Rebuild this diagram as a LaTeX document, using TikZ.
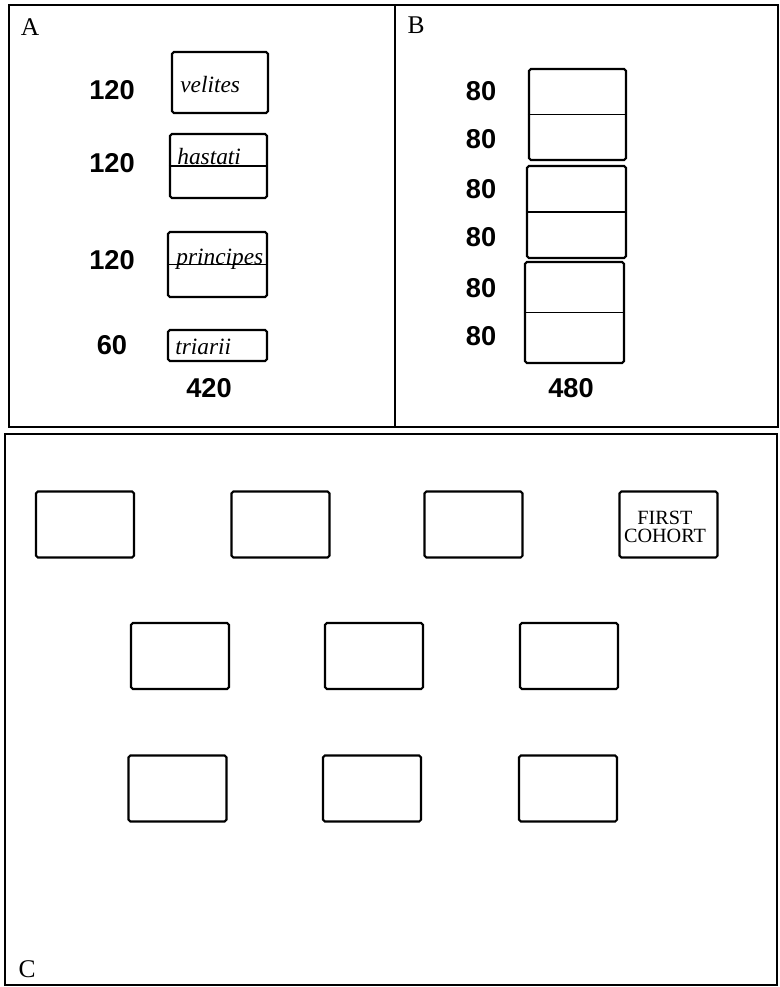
\documentclass[tikz,border=0pt]{standalone}
\usepackage{fontspec}
\setmainfont{Liberation Serif}
\newfontfamily\numfam{Liberation Sans}
\begin{document}
\begin{tikzpicture}[x=0.02cm,y=-0.02cm,
  frame/.style={line width=1.6pt},
  unit/.style={draw,line width=1.2pt,rounded corners=1pt,inner sep=0pt},
  split/.style={line width=1.1pt},
  cohort/.style={unit,minimum width=1.96cm,minimum height=1.32cm},
  num/.style={font=\numfam\bfseries\fontsize{15.5}{18}\selectfont},
  troop/.style={font=\itshape\fontsize{13.3}{15}\selectfont,anchor=base west,inner sep=0pt},
  panel/.style={font=\fontsize{14.5}{16}\selectfont,anchor=base,inner sep=0pt}]
\useasboundingbox (0,0) rectangle (779,987);
% panel frames
\draw[frame] (9,5) rectangle (395,427);
\draw[frame] (395,5) rectangle (778,427);
\draw[frame] (5,434) rectangle (777,985);
\node[panel] (labA) at (30,35) {A};
\node[panel] (labB) at (416,33) {B};
\node[panel] (labC) at (27,977) {C};
% A: manipular legion
\node[unit,minimum width=1.92cm,minimum height=1.22cm] (velites) at (220,82.5) {};
\node[unit,minimum width=1.94cm,minimum height=1.28cm] (hastati) at (218.5,166) {};
\draw[split] (hastati.west) -- (hastati.east);
\node[unit,minimum width=1.98cm,minimum height=1.3cm] (principes) at (217.5,264.5) {};
\draw[split] (principes.west) -- (principes.east);
\node[unit,minimum width=1.98cm,minimum height=0.62cm] (triarii) at (217.5,345.5) {};
\node[troop] (tvel) at (180,92) {velites};
\node[troop] (thas) at (177,164) {hastati};
\node[troop] (tpri) at (176,264) {principes};
\node[troop] (ttri) at (175,354) {triarii};
\node[num] (nvel) at (112,90) {120};
\node[num] (nhas) at (112,163) {120};
\node[num] (npri) at (112,260) {120};
\node[num] (ntri) at (112,345) {60};
\node[num] (ntotA) at (209,388) {420};
% B: cohort of three maniples
\node[unit,minimum width=1.94cm,minimum height=1.82cm] (manA) at (577.5,114.5) {};
\draw[split] (manA.west) -- (manA.east);
\node[unit,minimum width=1.98cm,minimum height=1.84cm] (manB) at (576.5,212) {};
\draw[split] (manB.west) -- (manB.east);
\node[unit,minimum width=1.98cm,minimum height=2.02cm] (manC) at (574.5,312.5) {};
\draw[split] (manC.west) -- (manC.east);
\node[num] (nb1) at (481,91) {80};
\node[num] (nb2) at (481,139) {80};
\node[num] (nb3) at (481,189) {80};
\node[num] (nb4) at (481,237) {80};
\node[num] (nb5) at (481,288) {80};
\node[num] (nb6) at (481,336) {80};
\node[num] (ntotB) at (571,388) {480};
% C: legion of ten cohorts
\node[cohort] (coh10) at (85,524.5) {};
\node[cohort] (coh7) at (280.5,524.5) {};
\node[cohort] (coh4) at (473.5,524.5) {};
\node[cohort] (coh1) at (668.5,524.5) {};
\node[align=center,inner sep=0pt,font=\fontsize{11.5}{16}\selectfont] (tcoh1) at (665,527) {FIRST\\[-6pt]COHORT};
\node[cohort] (coh8) at (180,656) {};
\node[cohort] (coh5) at (374,656) {};
\node[cohort] (coh2) at (569,656) {};
\node[cohort] (coh9) at (177.5,788.5) {};
\node[cohort] (coh6) at (372,788.5) {};
\node[cohort] (coh3) at (568,788.5) {};
\end{tikzpicture}
\end{document}
